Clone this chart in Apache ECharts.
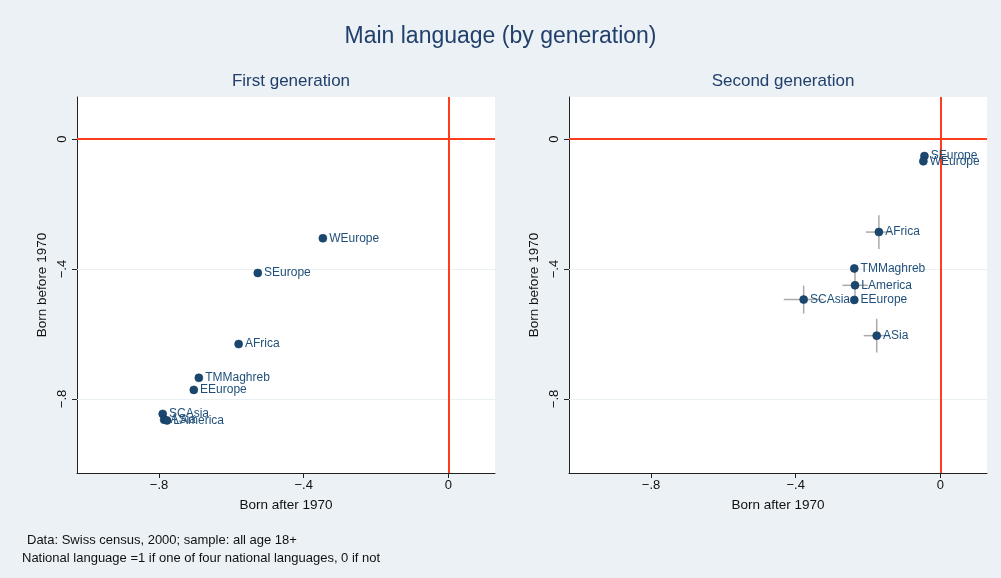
<!DOCTYPE html>
<html>
<head>
<meta charset="utf-8">
<script src="https://cdn.jsdelivr.net/npm/echarts@6/dist/echarts.min.js"></script>
<style>
html,body{margin:0;padding:0;background:#ebf1f5;}
#chart{width:1001px;height:578px;}
</style>
</head>
<body>
<div id="chart"></div>
<script>
// ---- data ----
var groups1 = ['WEurope','SEurope','AFrica','TMMaghreb','EEurope','SCAsia','ASia','LAmerica'];
var gen1X   = [-0.347, -0.527, -0.580, -0.690, -0.704, -0.790, -0.786, -0.778];
var gen1Y   = [-0.305, -0.412, -0.631, -0.735, -0.772, -0.846, -0.864, -0.866];

var groups2 = ['SEurope','WEurope','AFrica','TMMaghreb','LAmerica','EEurope','SCAsia','ASia'];
var gen2X   = [-0.044, -0.047, -0.170, -0.238, -0.236, -0.238, -0.378, -0.176];
var gen2Y   = [-0.052, -0.068, -0.286, -0.398, -0.450, -0.495, -0.494, -0.605];
var gen2XErr = [0.004, 0.004, 0.036, 0.006, 0.035, 0.006, 0.055, 0.036];
var gen2YErr = [0.004, 0.004, 0.052, 0.012, 0.047, 0.012, 0.043, 0.052];

var tickValues = [-0.8, -0.4, 0];
var axisMin = -1.027, axisMax = 0.129;
var yMin = -1.028, yMax = 0.130;

var NAVY = '#1a476f';
var RED = '#ff3c1c';
var FONT = '"Liberation Sans", Arial, Helvetica, sans-serif';

function fmt(v){
  if (Math.abs(v) < 1e-9) return '0';
  var s = String(Math.round(Math.abs(v)*10)/10).replace(/^0/, '');
  return (v < 0 ? '\u2212' : '') + s;
}

function pts(xs, ys, names){
  return xs.map(function(x,i){ return {name:names[i], value:[x, ys[i]]}; });
}

function xAxisCfg(idx){
  return {
    gridIndex: idx, type:'value', min: axisMin, max: axisMax,
    name:'Born after 1970', nameLocation:'middle', nameGap:25,
    nameTextStyle:{color:'#111', fontSize:13.5, fontFamily:FONT},
    axisLine:{show:true, onZero:false, lineStyle:{color:'#222', width:1}},
    axisTick:{show:true, length:5, lineStyle:{color:'#222'}, customValues: tickValues},
    axisLabel:{color:'#111', fontSize:13, fontFamily:FONT, margin:6, customValues: tickValues, formatter: fmt},
    splitLine:{show:false}
  };
}
function yAxisCfg(idx){
  return {
    gridIndex: idx, type:'value', min: yMin, max: yMax,
    name:'Born before 1970', nameLocation:'middle', nameGap:28, nameRotate:90,
    nameTextStyle:{color:'#111', fontSize:13.5, fontFamily:FONT},
    axisLine:{show:true, onZero:false, lineStyle:{color:'#222', width:1}},
    axisTick:{show:true, length:5, lineStyle:{color:'#222'}, customValues: tickValues},
    axisLabel:{color:'#111', fontSize:13, fontFamily:FONT, margin:8, rotate:90, customValues: tickValues, formatter: fmt},
    splitLine:{show:false}
  };
}

function refLines(){
  var gl = tickValues.filter(function(v){return v!==0;}).map(function(v){
    return {yAxis:v, lineStyle:{color:'#eaf1f3', width:1, type:'solid'}};
  });
  return {
    silent:true, symbol:'none', label:{show:false}, animation:false,
    data: gl.concat([
      {yAxis:0, lineStyle:{color:RED, width:2, type:'solid'}},
      {xAxis:0, lineStyle:{color:RED, width:2, type:'solid'}}
    ])
  };
}

function scatterSeries(idx, data){
  return {
    type:'scatter', xAxisIndex:idx, yAxisIndex:idx, data:data,
    symbol:'circle', symbolSize:8, z:5,
    itemStyle:{color:NAVY, borderColor:'#123a5c', borderWidth:0.6, opacity:1},
    label:{show:true, position:'right', distance:2, formatter:'{b}', color:'#1f4f7a', fontSize:12, fontFamily:FONT},
    labelLayout:{hideOverlap:false},
    emphasis:{disabled:true},
    markLine: refLines()
  };
}

var errData = gen2X.map(function(x,i){ return [x, gen2Y[i], gen2XErr[i], gen2YErr[i]]; });

var option = {
  backgroundColor:'#ebf1f5',
  animation:false,
  title:[
    {text:'Main language (by generation)', left:'center', top:20, textStyle:{color:'#22406c', fontSize:23, fontWeight:'normal', fontFamily:FONT}},
    {text:'First generation', left:286, top:68, textAlign:'center', textStyle:{color:'#22406c', fontSize:17, fontWeight:'normal', fontFamily:FONT}},
    {text:'Second generation', left:778, top:68, textAlign:'center', textStyle:{color:'#22406c', fontSize:17, fontWeight:'normal', fontFamily:FONT}},
    {text:'Data: Swiss census, 2000; sample: all age 18+', left:22, top:529, textStyle:{color:'#111', fontSize:13, fontWeight:'normal', fontFamily:FONT}},
    {text:'National language =1 if one of four national languages, 0 if not', left:17, top:547, textStyle:{color:'#111', fontSize:13, fontWeight:'normal', fontFamily:FONT}}
  ],
  grid:[
    {left:77, top:97, width:418, height:376, show:true, backgroundColor:'#ffffff', borderWidth:0, containLabel:false},
    {left:569, top:97, width:418, height:376, show:true, backgroundColor:'#ffffff', borderWidth:0, containLabel:false}
  ],
  xAxis:[xAxisCfg(0), xAxisCfg(1)],
  yAxis:[yAxisCfg(0), yAxisCfg(1)],
  series:[
    scatterSeries(0, pts(gen1X, gen1Y, groups1)),
    {
      type:'custom', xAxisIndex:1, yAxisIndex:1, data: errData, z:3, silent:true,
      renderItem:function(params, api){
        var x = api.value(0), y = api.value(1), ex = api.value(2), ey = api.value(3);
        var l = api.coord([x-ex, y]), r = api.coord([x+ex, y]);
        var t = api.coord([x, y+ey]), b = api.coord([x, y-ey]);
        var st = {stroke:'#aaaaaa', lineWidth:1.5};
        return {type:'group', children:[
          {type:'line', shape:{x1:l[0], y1:l[1], x2:r[0], y2:r[1]}, style:st},
          {type:'line', shape:{x1:t[0], y1:t[1], x2:b[0], y2:b[1]}, style:st}
        ]};
      }
    },
    scatterSeries(1, pts(gen2X, gen2Y, groups2))
  ]
};

var chart = echarts.init(document.getElementById('chart'), null, {renderer:'canvas'});
chart.setOption(option);
</script>
</body>
</html>
